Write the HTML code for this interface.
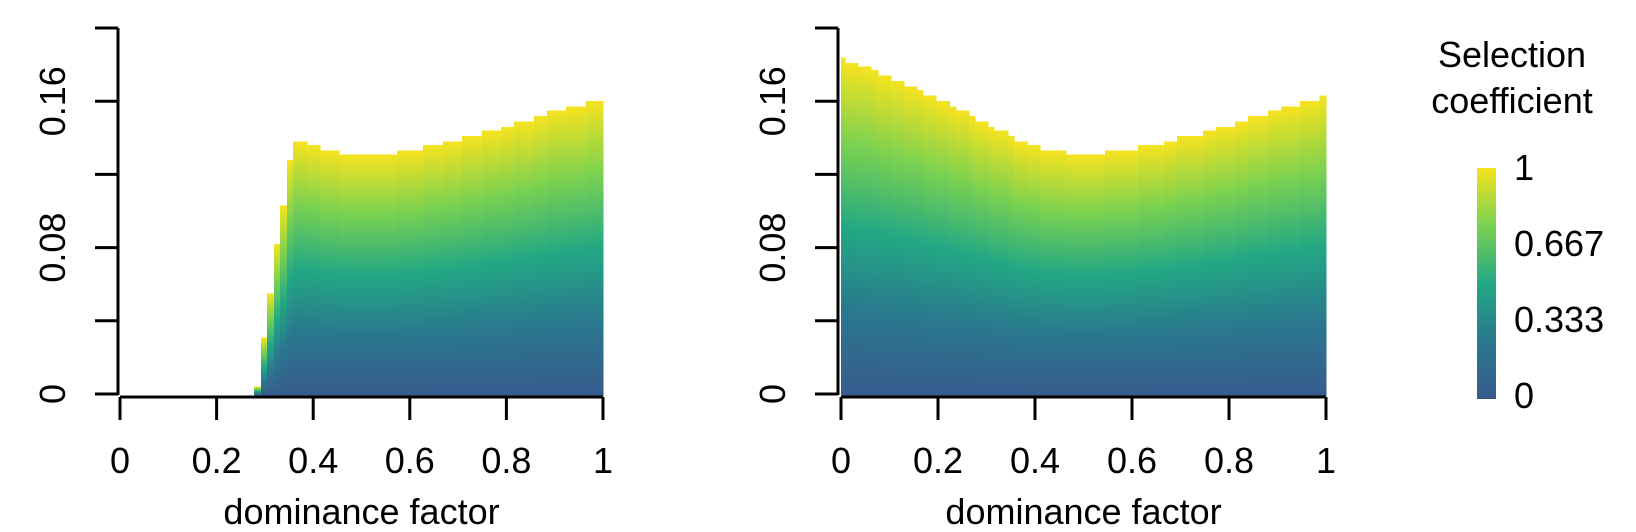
<!DOCTYPE html>
<html><head><meta charset="utf-8"><style>
html,body{margin:0;padding:0;background:#fff;}
svg{display:block;font-family:"Liberation Sans",Arial,sans-serif;}
</style></head><body>
<svg id="chart" width="1636" height="532" viewBox="0 0 1636 532" xmlns="http://www.w3.org/2000/svg">
<defs>
<linearGradient id="vir" x1="0" y1="1" x2="0" y2="0">
<stop offset="0" stop-color="#375b8d"/>
<stop offset="0.25" stop-color="#2a788e"/>
<stop offset="0.5" stop-color="#22a884"/>
<stop offset="0.75" stop-color="#7ad151"/>
<stop offset="1" stop-color="#f6e31f"/>
</linearGradient>
</defs>
<g id="left"></g>
<g id="right"></g>
<g>
<text x="1512" y="67" font-size="36" text-anchor="middle">Selection</text>
<text x="1512" y="113" font-size="36" text-anchor="middle">coefficient</text>
<rect x="1477" y="168" width="19" height="231" fill="url(#vir)"/>
<g id="legendTicks"></g>
</g>
</svg>
<script>
// Left panel: column start (dominance factor) and max selection coefficient
const leftH = [0.277,0.292,0.304,0.319,0.331,0.346,0.358,0.387,0.414,0.453,0.573,0.627,0.669,0.708,0.749,0.789,0.816,0.857,0.884,0.923,0.965];
const leftS = [0.004,0.031,0.055,0.082,0.103,0.128,0.138,0.136,0.133,0.131,0.133,0.136,0.138,0.141,0.144,0.146,0.149,0.152,0.155,0.157,0.160];
// Right panel
const rightH = [0,0.008,0.035,0.062,0.076,0.103,0.130,0.157,0.169,0.196,0.223,0.237,0.264,0.276,0.303,0.315,0.344,0.357,0.384,0.410,0.464,0.544,0.612,0.666,0.693,0.746,0.773,0.812,0.839,0.880,0.907,0.946,0.987];
const rightS = [0.184,0.181,0.179,0.177,0.174,0.171,0.168,0.166,0.163,0.160,0.157,0.155,0.152,0.149,0.146,0.144,0.141,0.138,0.136,0.133,0.131,0.133,0.136,0.138,0.141,0.144,0.146,0.149,0.152,0.155,0.157,0.160,0.163];
const xTicks = [0,0.2,0.4,0.6,0.8,1];
const xTickLabels = ["0","0.2","0.4","0.6","0.8","1"];
const yTicks = [0,0.04,0.08,0.12,0.16,0.2];
const yLabelTicks = [0,0.08,0.16];
const yLabels = ["0","0.08","0.16"];
const legendVals = [0,0.333,0.667,1];
const legendLabels = ["0","0.333","0.667","1"];

const NS = "http://www.w3.org/2000/svg";
function mk(tag, attrs, parent){const e=document.createElementNS(NS,tag);for(const k in attrs)e.setAttribute(k,attrs[k]);parent.appendChild(e);return e;}

function panel(gid, x0, x1, axisX, H, S){
  const g = document.getElementById(gid);
  const y0 = 394, yPer = 1830;
  const sx = h => x0 + h*(x1-x0);
  const sy = s => y0 - s*yPer;
  for(let i=0;i<H.length;i++){
    const xa = sx(H[i]), xb = sx(i+1<H.length?H[i+1]:1);
    const r = mk("rect",{x:xa,y:sy(S[i]),width:xb-xa+0.6,height:y0-sy(S[i])+2,fill:"url(#vir)","shape-rendering":"crispEdges"},g);
    
    
  }
  const xa = mk("line",{x1:x0,x2:x1,y1:397,y2:397,stroke:"#000","stroke-width":3},g);
  
  
  xTicks.forEach((t,i)=>{
    const tl = mk("line",{x1:sx(t),x2:sx(t),y1:397,y2:420,stroke:"#000","stroke-width":3},g);
    
    
    const tx = mk("text",{x:sx(t),y:473,"font-size":36,"text-anchor":"middle"},g);
    tx.textContent = xTickLabels[i];
    
    
  });
  const xt = mk("text",{x:(x0+x1)/2,y:524,"font-size":36,"text-anchor":"middle"},g);
  xt.textContent = "dominance factor";
  
  
  const ya = mk("line",{x1:axisX,x2:axisX,y1:sy(0.2),y2:sy(0)+1,stroke:"#000","stroke-width":3},g);
  
  
  yTicks.forEach(t=>{
    const tl = mk("line",{x1:axisX-23,x2:axisX,y1:sy(t),y2:sy(t),stroke:"#000","stroke-width":3},g);
    
    
  });
  yLabelTicks.forEach((t,i)=>{
    const lx = axisX-66, ly = sy(t);
    const tx = mk("text",{x:lx,y:ly,"font-size":36,"text-anchor":"middle",transform:`rotate(-90 ${lx} ${ly})`,dy:"0.36em"},g);
    tx.textContent = yLabels[i];
    
    
  });
}
panel("left",120,603,118,leftH,leftS);
panel("right",841,1326,838,rightH,rightS);

const lg = document.getElementById("legendTicks");
legendVals.forEach((v,i)=>{
  const y = 395 - v*228;
  const t = mk("text",{x:1514,y:y+13,"font-size":36},lg);
  t.textContent = legendLabels[i];
  
  
});
</script>
</body></html>
